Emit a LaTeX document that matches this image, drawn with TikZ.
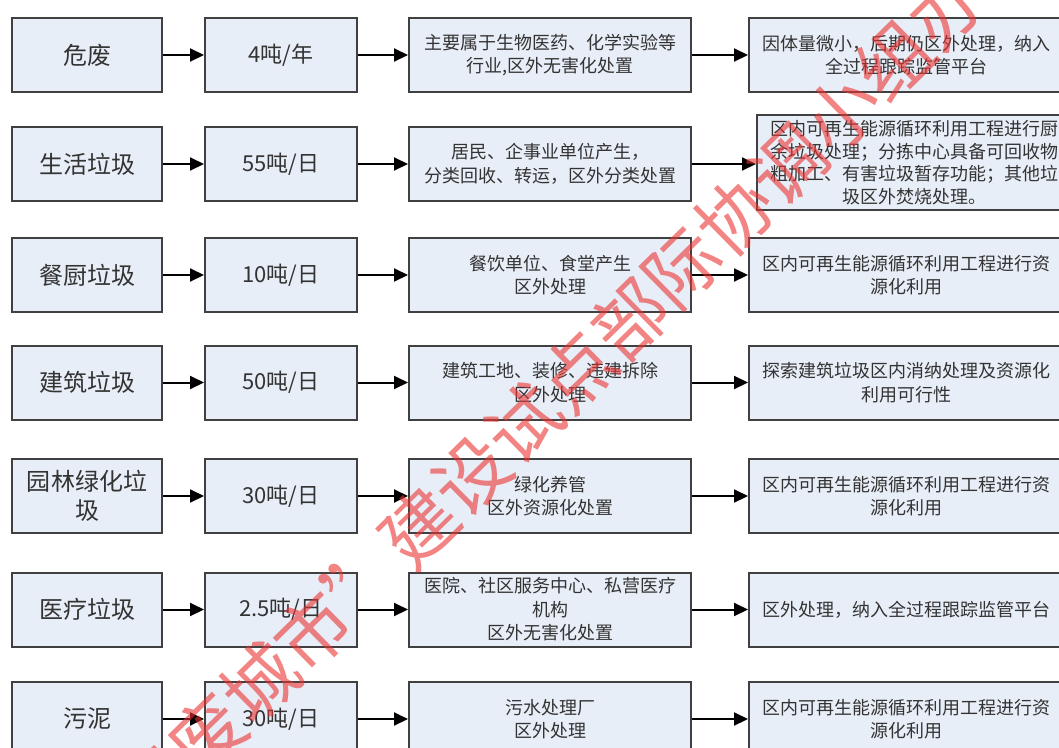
\documentclass[tikz,border=0pt]{standalone}
\usepackage{fontspec}
\setmainfont{Noto Sans CJK SC}
\usetikzlibrary{arrows.meta}
\definecolor{boxfill}{RGB}{232,238,247}
\definecolor{boxline}{RGB}{64,64,64}
\definecolor{txtgray}{RGB}{51,51,51}
\definecolor{wmred}{RGB}{235,50,50}
\begin{document}
\begin{tikzpicture}[x=1pt,y=1pt,yscale=-1,xscale=1,
	box/.style={draw=boxline,line width=2pt,fill=boxfill,inner sep=0pt,text=txtgray,align=center,minimum height=74pt},
	kindbox/.style={box,minimum width=150pt,font=\fontsize{24}{29}\selectfont},
	amtbox/.style={box,minimum width=152pt,font=\fontsize{22}{26}\selectfont},
	srcbox/.style={box,minimum width=282pt,font=\fontsize{18}{23.5}\selectfont},
	fatebox/.style={box,minimum width=314pt,font=\fontsize{18}{23.5}\selectfont},
	flow/.style={line width=2pt,-{Triangle[length=14pt,width=13pt]}},
	wmark/.style={rotate=44.5,inner sep=0pt,text=wmred,text opacity=0.6,font=\fontsize{74}{74}\selectfont}]
	\useasboundingbox (0,0) rectangle (1059,747); %page is 1059 wide, 747 high
	\clip (0,0) rectangle (1059,747);
	
	%Row: hazardous waste
	\node[kindbox] (hw) at (87,55) {危废};
	\node[amtbox] (hwamt) at (281,55) {4吨/年};
	\node[srcbox] (hwsrc) at (550,55) {主要属于生物医药、化学实验等\\行业,区外无害化处置};
	\node[fatebox] (hwfate) at (906,55) {因体量微小，后期仍区外处理，纳入\\全过程跟踪监管平台};
	%Row: domestic waste
	\node[kindbox] (dom) at (87,164) {生活垃圾};
	\node[amtbox] (domamt) at (281,164) {55吨/日};
	\node[srcbox] (domsrc) at (550,164) {居民、企事业单位产生，\\分类回收、转运，区外分类处置};
	\node[fatebox,minimum height=95pt,font=\fontsize{18}{22.5}\selectfont] (domfate) at (914,162.5) {区内可再生能源循环利用工程进行厨\\余垃圾处理；分拣中心具备可回收物\\粗加工、有害垃圾暂存功能；其他垃\\圾区外焚烧处理。};
	%Row: kitchen waste
	\node[kindbox] (food) at (87,275) {餐厨垃圾};
	\node[amtbox] (foodamt) at (281,275) {10吨/日};
	\node[srcbox] (foodsrc) at (550,275) {餐饮单位、食堂产生\\区外处理};
	\node[fatebox] (foodfate) at (906,275) {区内可再生能源循环利用工程进行资\\源化利用};
	%Row: construction waste
	\node[kindbox] (cons) at (87,382.5) {建筑垃圾};
	\node[amtbox] (consamt) at (281,382.5) {50吨/日};
	\node[srcbox] (conssrc) at (550,382.5) {建筑工地、装修、违建拆除\\区外处理};
	\node[fatebox] (consfate) at (906,382.5) {探索建筑垃圾区内消纳处理及资源化\\利用可行性};
	%Row: garden waste
	\node[kindbox] (green) at (87,496) {园林绿化垃\\圾};
	\node[amtbox] (greenamt) at (281,496) {30吨/日};
	\node[srcbox] (greensrc) at (550,496) {绿化养管\\区外资源化处置};
	\node[fatebox] (greenfate) at (906,496) {区内可再生能源循环利用工程进行资\\源化利用};
	%Row: medical waste
	\node[kindbox] (med) at (87,609.5) {医疗垃圾};
	\node[amtbox] (medamt) at (281,609.5) {2.5吨/日};
	\node[srcbox] (medsrc) at (550,609.5) {医院、社区服务中心、私营医疗\\机构\\区外无害化处置};
	\node[fatebox] (medfate) at (906,609.5) {区外处理，纳入全过程跟踪监管平台};
	%Row: sludge
	\node[kindbox] (mud) at (87,719) {污泥};
	\node[amtbox] (mudamt) at (281,719) {30吨/日};
	\node[srcbox] (mudsrc) at (550,719) {污水处理厂\\区外处理};
	\node[fatebox] (mudfate) at (906,719) {区内可再生能源循环利用工程进行资\\源化利用};
	
	%Arrows
	\draw[flow] (hw) -- (hwamt);
	\draw[flow] (hwamt) -- (hwsrc);
	\draw[flow] (hwsrc) -- (hwfate);
	\draw[flow] (dom) -- (domamt);
	\draw[flow] (domamt) -- (domsrc);
	\draw[flow] (domsrc) -- (domsrc -| domfate.west);
	\draw[flow] (food) -- (foodamt);
	\draw[flow] (foodamt) -- (foodsrc);
	\draw[flow] (foodsrc) -- (foodfate);
	\draw[flow] (cons) -- (consamt);
	\draw[flow] (consamt) -- (conssrc);
	\draw[flow] (conssrc) -- (consfate);
	\draw[flow] (green) -- (greenamt);
	\draw[flow] (greenamt) -- (greensrc);
	\draw[flow] (greensrc) -- (greenfate);
	\draw[flow] (med) -- (medamt);
	\draw[flow] (medamt) -- (medsrc);
	\draw[flow] (medsrc) -- (medfate);
	\draw[flow] (mud) -- (mudamt);
	\draw[flow] (mudamt) -- (mudsrc);
	\draw[flow] (mudsrc) -- (mudfate);
	
	%Watermark
	\node[wmark,anchor=west] (wmtail) at (392,553) {建设试点部际协调小组办公室};
	\node[wmark,anchor=east] (wmhead) at (wmtail.west) {\makebox[1em]{“}无废城市\makebox[1em]{”}};
\end{tikzpicture}
\end{document}
